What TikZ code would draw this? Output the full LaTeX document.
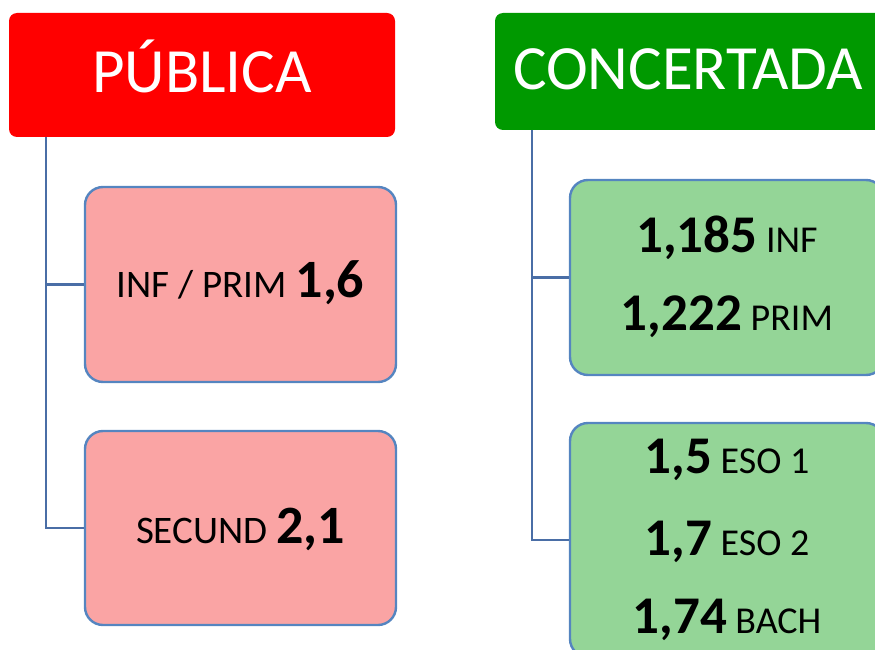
\documentclass[tikz,border=0pt]{standalone}
\usepackage{fontspec}
\setmainfont{Carlito}
\definecolor{hdred}{HTML}{FF0000}
\definecolor{hdgreen}{HTML}{009900}
\definecolor{pinkfill}{HTML}{FAA4A4}
\definecolor{greenfill}{HTML}{94D597}
\definecolor{boxline}{HTML}{5585C0}
\definecolor{trunk}{HTML}{4A6EA6}
\tikzset{
  header/.style={draw=none, rounded corners=8pt, inner sep=0pt},
  childbox/.style={draw=boxline, line width=2.4pt, rounded corners=18pt, inner sep=0pt},
  hdtext/.style={anchor=base, inner sep=0pt, text=white, font=\fontsize{63}{70}\selectfont},
  ptext/.style={anchor=base, inner sep=0pt, text=black, font=\fontsize{39}{44}\selectfont},
  gtext/.style={anchor=base, inner sep=0pt, text=black, font=\fontsize{38}{44}\selectfont},
  conn/.style={draw=trunk, line width=2.4pt}
}
\newcommand{\bnum}[2]{{\fontsize{#1}{#1}\selectfont\bfseries #2}}
\begin{document}
\begin{tikzpicture}[x=1pt,y=-1pt]
\useasboundingbox (0,0) rectangle (875,650);
\clip (0,0) rectangle (875,650);
% headers
\node[header, fill=hdred, minimum width=386pt, minimum height=124pt] (pub) at (202,75) {};
\node[header, fill=hdgreen, minimum width=392pt, minimum height=117pt] (con) at (691,71.5) {};
\node[hdtext] (pubt) at (202,93) {PÚBLICA};
\node[hdtext] (cont) at (688,90) {CONCERTADA};
% pink boxes
\node[childbox, fill=pinkfill, minimum width=311pt, minimum height=195pt] (p1) at (240.5,284.5) {};
\node[childbox, fill=pinkfill, minimum width=311pt, minimum height=194pt] (p2) at (240.5,528) {};
\node[ptext] (p1t) at (240.5,297) {INF / PRIM \bnum{54}{1,6}};
\node[ptext] (p2t) at (240.5,543) {SECUND \bnum{54}{2,1}};
% green boxes
\node[childbox, fill=greenfill, minimum width=314pt, minimum height=195pt] (g1) at (727,277.5) {};
\node[childbox, fill=greenfill, minimum width=314pt, minimum height=234pt] (g2) at (727,540) {};
\node[gtext] (g1a) at (727,252) {\bnum{53}{1,185} INF};
\node[gtext] (g1b) at (727,330) {\bnum{53}{1,222} PRIM};
\node[gtext] (g2a) at (727,473) {\bnum{53}{1,5} ESO 1};
\node[gtext] (g2b) at (727,555) {\bnum{53}{1,7} ESO 2};
\node[gtext] (g2c) at (727,633) {\bnum{53}{1,74} BACH};
% connectors
\coordinate (pt) at (46,137);
\coordinate (ct) at (532,130);
\draw[conn] (pt) |- (p1.west);
\draw[conn] (pt) |- (p2.west);
\draw[conn] (ct) |- (g1.west);
\draw[conn] (ct) |- (g2.west);
\end{tikzpicture}
\end{document}
